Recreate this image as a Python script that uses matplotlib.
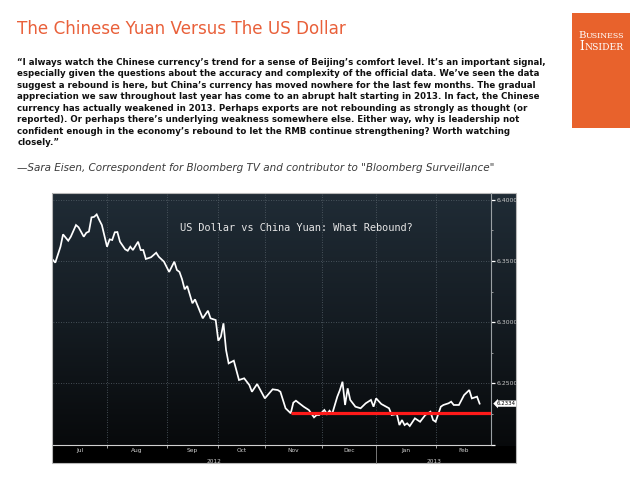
import numpy as np
import matplotlib
matplotlib.use("Agg")
import matplotlib.pyplot as plt
from matplotlib.colors import LinearSegmentedColormap
from matplotlib.patches import Rectangle
import matplotlib.transforms as mtransforms

# ---------------- data ----------------
# x = trading-day index starting at first trading day of July 2012
day_index = [0, 1, 3, 4, 6, 7, 9, 10, 12, 13, 14, 15, 16, 17, 18, 19, 21, 22, 23, 24,
             25, 26, 28, 29, 30, 31, 33, 34, 35, 36, 38, 40, 41, 43, 45, 47, 48, 49, 50, 51,
             52, 54, 55, 58, 60, 61, 63, 64, 65, 66, 67, 68, 70, 72, 74, 76, 77, 79, 82, 85,
             87, 88, 90, 92, 93, 94, 97, 99, 101, 102, 103, 105, 106, 107, 108, 110, 111, 112, 113, 114,
             115, 117, 119, 121, 123, 124, 125, 127, 130, 131, 133, 134, 135, 136, 137, 138, 140, 142, 144, 146,
             147, 148, 150, 151, 153, 154, 155, 157, 159, 161, 162, 164, 165]
usd_cny = [6.3510, 6.3486, 6.3616, 6.3717, 6.3665, 6.3698, 6.3793, 6.3775, 6.3698, 6.3730,
           6.3740, 6.3856, 6.3860, 6.3880, 6.3834, 6.3793, 6.3616, 6.3676, 6.3671, 6.3734,
           6.3736, 6.3657, 6.3595, 6.3583, 6.3616, 6.3589, 6.3657, 6.3589, 6.3589, 6.3516,
           6.3530, 6.3567, 6.3534, 6.3494, 6.3410, 6.3494, 6.3426, 6.3410, 6.3350, 6.3268,
           6.3295, 6.3154, 6.3186, 6.3031, 6.3093, 6.3031, 6.3017, 6.2848, 6.2881, 6.2990,
           6.2772, 6.2663, 6.2685, 6.2527, 6.2541, 6.2486, 6.2431, 6.2494, 6.2377, 6.2451,
           6.2445, 6.2431, 6.2296, 6.2255, 6.2342, 6.2358, 6.2309, 6.2282, 6.2222, 6.2241,
           6.2241, 6.2282, 6.2249, 6.2276, 6.2249, 6.2391, 6.2445, 6.2513, 6.2323, 6.2459,
           6.2364, 6.2309, 6.2296, 6.2337, 6.2364, 6.2309, 6.2377, 6.2331, 6.2296, 6.2241,
           6.2249, 6.2159, 6.2200, 6.2159, 6.2173, 6.2151, 6.2214, 6.2186, 6.2241, 6.2268,
           6.2200, 6.2186, 6.2309, 6.2323, 6.2337, 6.2350, 6.2323, 6.2323, 6.2404, 6.2445,
           6.2377, 6.2391, 6.2334]

months = ["Jul", "Aug", "Sep", "Oct", "Nov", "Dec", "Jan", "Feb"]
month_trading_days = [21, 23, 20, 18, 22, 21, 23]   # Jul..Jan (Feb runs to axis end)
years = ["2012", "2013"]
support_level = 6.2255
support_start = 92
last_value_label = "6.2334"
y_major = [6.20, 6.25, 6.30, 6.35, 6.40]
y_minor = [6.225, 6.275, 6.325, 6.375]

title = "The Chinese Yuan Versus The US Dollar"
quote_lines = [
    "\u201cI always watch the Chinese currency\u2019s trend for a sense of Beijing\u2019s comfort level. It\u2019s an important signal,",
    "especially given the questions about the accuracy and complexity of the official data. We\u2019ve seen the data",
    "suggest a rebound is here, but China\u2019s currency has moved nowhere for the last few months. The gradual",
    "appreciation we saw throughout last year has come to an abrupt halt starting in 2013. In fact, the Chinese",
    "currency has actually weakened in 2013. Perhaps exports are not rebounding as strongly as thought (or",
    "reported). Or perhaps there\u2019s underlying weakness somewhere else. Either way, why is leadership not",
    "confident enough in the economy\u2019s rebound to let the RMB continue strengthening? Worth watching",
    "closely.\u201d",
]
attribution = "\u2014Sara Eisen, Correspondent for Bloomberg TV and contributor to \"Bloomberg Surveillance\""
chart_title = "US Dollar vs China Yuan: What Rebound?"
logo_words = ["Business", "Insider"]

# ---------------- figure ----------------
W, H = 640, 480
fig = plt.figure(figsize=(6.4, 4.8), dpi=100)
fig.patch.set_facecolor("white")
renderer = fig.canvas.get_renderer()


def frac(x0, y0, x1, y1):
    return [x0 / W, 1 - y1 / H, (x1 - x0) / W, (y1 - y0) / H]


def fit_text(x, y, s, width_px, **kw):
    t = fig.text(x / W, 1 - y / H, s, fontsize=10, **kw)
    w = t.get_window_extent(renderer).width
    fs = 10 * width_px / w
    t.set_fontsize(fs)
    return t, fs


ORANGE = "#E9603A"
fit_text(17, 34.3, title, 328, color=ORANGE, family="DejaVu Sans",
         fontweight="normal", va="baseline")

_, qfs = fit_text(17.4, 74, quote_lines[1], 518, color="#111111",
                  family="DejaVu Sans", fontweight="bold", va="center")
qys = [62.7, 74, 85.4, 96.8, 108.2, 119.6, 131.0, 142.6]
for i, (line, yy) in enumerate(zip(quote_lines, qys)):
    if i == 1:
        continue
    fig.text(17.4 / W, 1 - yy / H, line, fontsize=qfs, color="#111111",
             family="DejaVu Sans", fontweight="bold", va="center")

fit_text(17.4, 168, attribution, 474, color="#3a3a3a", family="DejaVu Sans",
         style="italic", va="center")

# Business Insider logo (small caps built from two text pieces)
logo = fig.add_axes(frac(572, 13, 630, 128))
logo.set_xlim(0, 1); logo.set_ylim(0, 1)
logo.axis("off")
logo.add_patch(Rectangle((0, 0), 1, 1, facecolor="#E8622C", edgecolor="none"))
for word, yb, target in [(logo_words[0], 38.5, 46), (logo_words[1], 49.5, 44)]:
    big = 8.0
    small = big * 0.78
    t1 = fig.text(0, 1 - yb / H, word[0].upper(), fontsize=big, color="white",
                  family="DejaVu Serif", va="baseline")
    t2 = fig.text(0, 1 - yb / H, word[1:].upper(), fontsize=small, color="white",
                  family="DejaVu Serif", va="baseline")
    w1 = t1.get_window_extent(renderer).width
    w2 = t2.get_window_extent(renderer).width
    scale = target / (w1 + w2)
    t1.set_fontsize(big * scale); t2.set_fontsize(small * scale)
    w1 *= scale
    x0 = 601 - target / 2
    t1.set_x(x0 / W)
    t2.set_x((x0 + w1 + 0.3) / W)

# ---------------- chart image ----------------
bg = fig.add_axes(frac(52, 193, 516, 463))
bg.set_xlim(0, 1); bg.set_ylim(0, 1)
bg.axis("off")
cmap = LinearSegmentedColormap.from_list("bb", ["#202c36", "#141b21", "#060708"])
grad = np.linspace(0, 1, 256)[:, None]
bg.imshow(grad, aspect="auto", cmap=cmap, extent=[0, 1, 0, 1], origin="upper")
bg.add_patch(Rectangle((0, 0), 1, (463 - 446) / 270, facecolor="black", edgecolor="none"))
bg.add_patch(Rectangle((0, 0), 1, 1, fill=False, edgecolor="#b8b8b8", lw=0.8, clip_on=False))

ax = fig.add_axes(frac(52.7, 193, 491, 445))
ax.patch.set_alpha(0)
ax.set_xlim(0, 169.4)
ax.set_ylim(6.1996, 6.4055)

ax.plot(day_index, usd_cny, color="white", lw=1.25, solid_joinstyle="miter")
ax.hlines(support_level, support_start, 169.4, color="#ff1a1a", lw=2.3, zorder=3)

for s in ["top", "left"]:
    ax.spines[s].set_visible(False)
ax.spines["bottom"].set_color("#d0d0d0")
ax.spines["bottom"].set_linewidth(0.8)
ax.spines["right"].set_color("#9aa0a4")
ax.spines["right"].set_linewidth(0.8)

# month boundaries and label centres
bounds = list(np.cumsum(month_trading_days))
edges = [0] + bounds + [169.4]
centres = [(edges[i] + edges[i + 1]) / 2 for i in range(len(months))]
ax.set_xticks(bounds)
ax.set_xticklabels([""] * len(bounds))
ax.set_xticks(centres, minor=True)
ax.set_xticklabels(months, minor=True)
ax.tick_params(axis="x", which="major", direction="out", length=2.5, color="#bbbbbb", width=0.6)
ax.tick_params(axis="x", which="minor", length=0, labelsize=4.2, labelcolor="#cfcfcf", pad=2.5)

ax.yaxis.tick_right()
ax.set_yticks(y_major)
ax.set_yticklabels([""] + [f"{v:.4f}" for v in y_major[1:]])
ax.set_yticks(y_minor, minor=True)
ax.tick_params(axis="y", which="major", direction="out", length=3, color="white", width=0.9,
               labelsize=4.4, labelcolor="#c8c8c8", pad=1)
ax.tick_params(axis="y", which="minor", direction="out", length=1.2, color="#aaaaaa", width=0.6)

ax.grid(which="major", linestyle=(0, (1, 2)), color="#56616a", lw=0.6)

blend = mtransforms.blended_transform_factory(ax.transData, ax.transAxes)
year_centres = [(edges[0] + edges[6]) / 2, (edges[6] + edges[-1]) / 2]
for yr, xc in zip(years, year_centres):
    ax.text(xc, -0.064, yr, transform=blend, ha="center", va="center",
            fontsize=4.2, color="#cfcfcf", family="DejaVu Sans")
ax.plot([edges[6], edges[6]], [0, -0.071], transform=blend, clip_on=False,
        color="#8a8a8a", lw=0.6)

ax.text((296.7 - 52.7) / 438.3, (445 - 228) / 252, chart_title, transform=ax.transAxes,
        ha="center", va="center", fontsize=7.4, color="#e6e6e6", family="DejaVu Sans Mono")

blend_y = mtransforms.blended_transform_factory(ax.transAxes, ax.transData)
ax.annotate(last_value_label, xy=(1.0, usd_cny[-1]), xycoords=blend_y,
            xytext=(4, 0), textcoords="offset points", fontsize=3.9, color="black",
            va="center", ha="left",
            bbox=dict(boxstyle="larrow,pad=0.12", fc="white", ec="none"))

fig.savefig("out.png", dpi=100)
